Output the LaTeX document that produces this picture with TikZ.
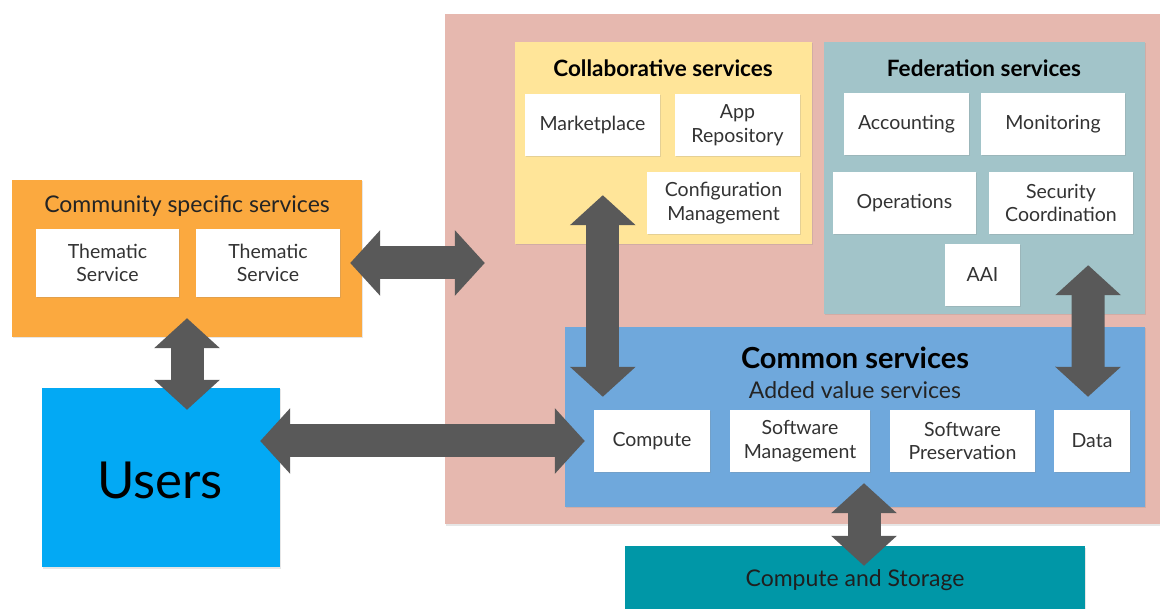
\documentclass[tikz,border=0pt]{standalone}
\usepackage{fontspec}
\setmainfont{Lato}
\usetikzlibrary{arrows.meta,shadows}

\definecolor{pinkbg}{HTML}{E6B8AF}
\definecolor{collabyellow}{HTML}{FFE599}
\definecolor{fedgrey}{HTML}{A2C4C9}
\definecolor{commonblue}{HTML}{6FA8DC}
\definecolor{storageteal}{HTML}{0097A7}
\definecolor{commorange}{HTML}{FBA93F}
\definecolor{usersblue}{HTML}{03A9F4}
\definecolor{arrowgrey}{HTML}{595959}
\definecolor{labelgrey}{HTML}{333333}

\tikzset{
  panel/.style={inner sep=0, drop shadow={opacity=0.2, shadow xshift=1pt, shadow yshift=-1.5pt}},
  svc/.style={fill=white, inner sep=0, align=center, text=labelgrey, font=\fontsize{19.5}{23.5}\selectfont,
    drop shadow={opacity=0.2, shadow xshift=1pt, shadow yshift=-1.5pt}},
  fatarrow/.style={draw=arrowgrey, line width=33pt,
    {Triangle[length=30pt, width=64pt]}-{Triangle[length=30pt, width=64pt]}},
}

\begin{document}
\begin{tikzpicture}[x=1pt, y=-1pt]
  \useasboundingbox (0,0) rectangle (1160,609);

  % big backdrop
  \node[panel, fill=pinkbg, minimum width=715, minimum height=510] (pink) at (802.5,269) {};

  % collaborative services
  \node[panel, fill=collabyellow, minimum width=297, minimum height=202] (collab) at (663.5,143) {};
  \node[font=\fontsize{22.5}{26}\selectfont\bfseries] (collabtitle) at (663,68) {Collaborative services};
  \node[svc, minimum width=135, minimum height=62] (market) at (592.5,125) {Marketplace};
  \node[svc, minimum width=125, minimum height=62] (apprepo) at (737.5,125) {App\\Repository};
  \node[svc, minimum width=153, minimum height=62] (config) at (723.5,203) {Configuration\\Management};

  % federation services
  \node[panel, fill=fedgrey, minimum width=321, minimum height=272] (fed) at (984.5,178) {};
  \node[font=\fontsize{22.5}{26}\selectfont\bfseries] (fedtitle) at (984,68) {Federation services};
  \node[svc, minimum width=125, minimum height=62] (account) at (906.5,124) {Accounting};
  \node[svc, minimum width=144, minimum height=62] (monitor) at (1053,124) {Monitoring};
  \node[svc, minimum width=143, minimum height=62] (ops) at (904.5,203) {Operations};
  \node[svc, minimum width=144, minimum height=62] (security) at (1061,203) {Security\\Coordination};
  \node[svc, minimum width=75, minimum height=62] (aai) at (982.5,275) {AAI};

  % common services
  \node[panel, fill=commonblue, minimum width=580, minimum height=180] (common) at (855,417) {};
  \node[font=\fontsize{29}{33}\selectfont\bfseries] (commontitle) at (855,358) {Common services};
  \node[font=\fontsize{23}{27}\selectfont, text=labelgrey!70!black] (addedvalue) at (855,390) {Added value services};
  \node[svc, minimum width=116, minimum height=62] (compute) at (652,441) {Compute};
  \node[svc, minimum width=140, minimum height=62] (swmgmt) at (800,441) {Software\\Management};
  \node[svc, minimum width=145, minimum height=62] (swpres) at (962.5,441) {Software\\Preservation};
  \node[svc, minimum width=76, minimum height=62] (data) at (1092,441) {Data};

  % compute and storage
  \node[panel, fill=storageteal, minimum width=460, minimum height=70] (storage) at (855,581) {};
  \node[font=\fontsize{23}{27}\selectfont, text=labelgrey!60!black] (storagetext) at (855,580) {Compute and Storage};

  % community specific services
  \node[panel, fill=commorange, minimum width=350, minimum height=157] (comm) at (187,258.5) {};
  \node[font=\fontsize{23}{27}\selectfont, text=labelgrey!70!black] (commtitle) at (187,206) {Community specific services};
  \node[svc, minimum width=143, minimum height=68] (ts1) at (107.5,263) {Thematic\\Service};
  \node[svc, minimum width=144, minimum height=68] (ts2) at (268,263) {Thematic\\Service};

  % users
  \node[panel, fill=usersblue, minimum width=238, minimum height=179] (users) at (161,477.5) {};
  \node[font=\fontsize{51}{55}\selectfont] (userstext) at (160,480) {Users};

  % connectors
  \draw[fatarrow] ([xshift=10]ts2.east) -- ([xshift=40]ts2.east -| pink.west);
  \draw[fatarrow] ([yshift=19]comm.south) -- ([yshift=-22]users.north -| comm.south);
  \draw[fatarrow] ([xshift=-20]users.east |- compute.west) -- ([xshift=-9]compute.west);
  \draw[fatarrow] ([xshift=88, yshift=49]collab.south west) -- ([xshift=38, yshift=-70]common.north west);
  \draw[fatarrow] ([xshift=-57, yshift=49]fed.south east) -- ([xshift=-4, yshift=13]data.north);
  \draw[fatarrow] ([xshift=9, yshift=24]common.south) -- ([xshift=9, yshift=-20]storage.north);
\end{tikzpicture}
\end{document}
